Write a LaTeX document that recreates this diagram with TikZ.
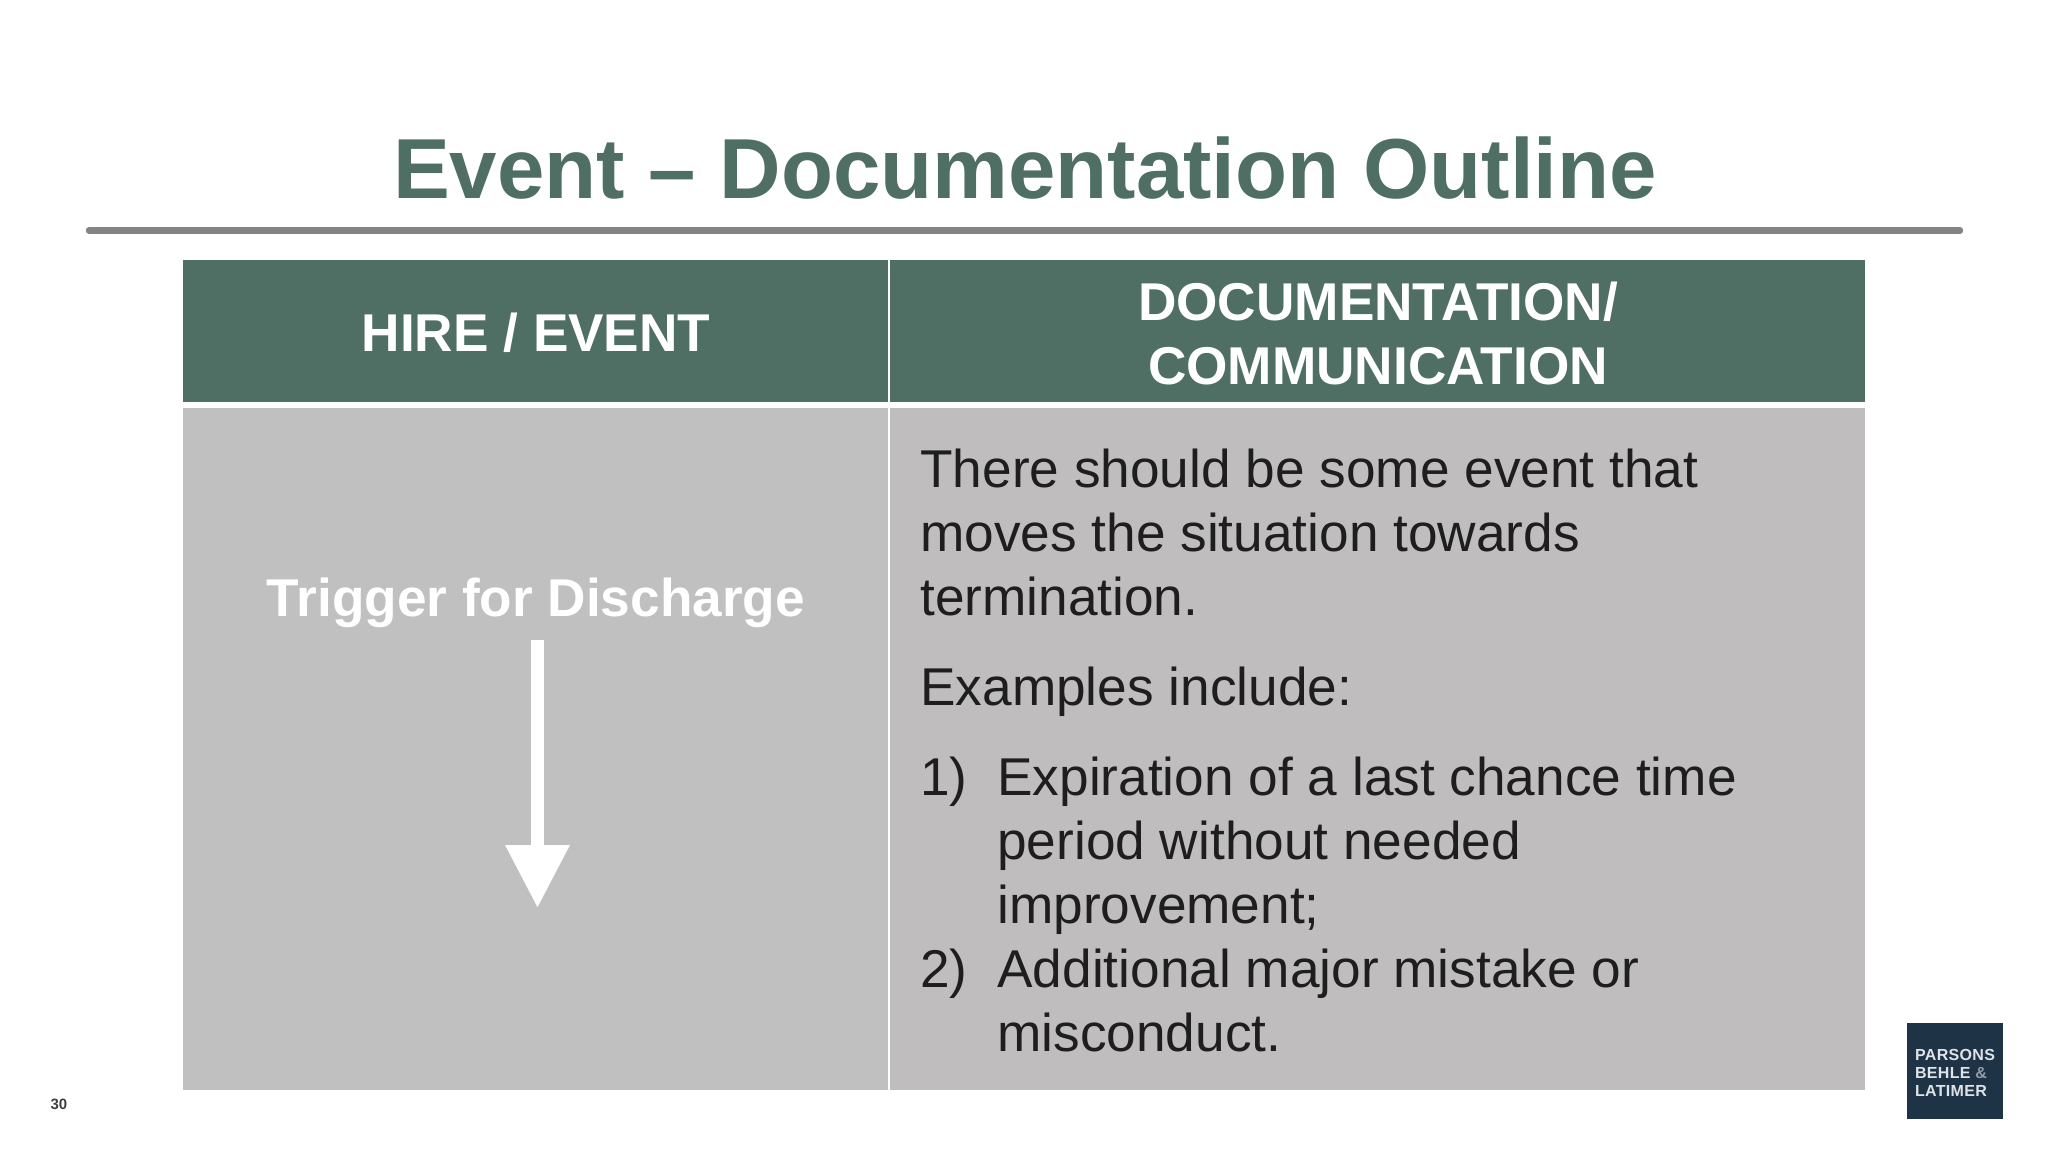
\documentclass[tikz,border=0pt]{standalone}
\usepackage{fontspec}
\setmainfont{Liberation Sans}
\usetikzlibrary{arrows.meta}
\definecolor{slidegreen}{HTML}{4F6E64}
\definecolor{leftgray}{HTML}{C0C0C0}
\definecolor{rightgray}{HTML}{BFBDBE}
\definecolor{rulegray}{HTML}{848484}
\definecolor{bodyink}{HTML}{1E1E1E}
\definecolor{logoblue}{HTML}{1F3347}
\definecolor{logoink}{HTML}{DDE3E6}
\tikzset{
  headtext/.style={text=white,font=\fontsize{26.6}{32}\selectfont\bfseries,align=center},
  bodytext/.style={text=bodyink,font=\fontsize{26.6}{32}\selectfont,align=left,anchor=north west,inner sep=0pt},
}

\begin{document}
\begin{tikzpicture}[x=0.5pt,y=-0.5pt]
  \useasboundingbox[fill=white] (0,0) rectangle (2048,1152);
  \draw (1025,198) node[anchor=base,text=slidegreen,font=\fontsize{42.6}{50}\selectfont\bfseries] (title) {Event – Documentation Outline};
  \draw[rulegray,line width=3.2pt,line cap=round] (89,230.5)--(1960,230.5);
  % table cells
  \fill[slidegreen] (183,260) rectangle (888,402);
  \fill[slidegreen] (890,260) rectangle (1865,402);
  \fill[leftgray] (183,408) rectangle (888,1090);
  \fill[rightgray] (890,408) rectangle (1865,1090);
  \draw (536,333) node[headtext] (hirehead) {HIRE / EVENT};
  \draw (1378,333) node[headtext] (dochead) {DOCUMENTATION/\\COMMUNICATION};
  % left cell
  \draw (536,603) node[headtext] (trigger) {Trigger for Discharge};
  \coordinate (arrowtop) at (537.5,640);
  \coordinate (arrowtip) at (537.5,908);
  \draw[white,line width=6.5pt,-{Triangle[length=31.5pt,width=30.5pt]}] (arrowtop)--(arrowtip);
  % right cell
  \draw (920,449) node[bodytext] (reason) {There should be some event that\\moves the situation towards\\termination.};
  \draw (920,667) node[bodytext] (examples) {Examples include:};
  \draw (920,757) node[bodytext] (numone) {1)};
  \draw (997,757) node[bodytext] (itemone) {Expiration of a last chance time\\period without needed\\improvement;};
  \draw (920,949) node[bodytext] (numtwo) {2)};
  \draw (997,949) node[bodytext] (itemtwo) {Additional major mistake or\\misconduct.};
  % footer
  \draw (59,1104) node[text=black!75,font=\fontsize{7.5}{9}\selectfont\bfseries] (pagenum) {30};
  \fill[logoblue] (1907,1023) rectangle (2003,1119);
  \draw (1955,1073) node[text=logoink,align=left,inner sep=0pt,font=\fontsize{8}{9}\selectfont\bfseries\addfontfeature{LetterSpace=2}] (logo) {PARSONS\\BEHLE \textcolor{logoink!60!logoblue}{\&}\\LATIMER};
\end{tikzpicture}
\end{document}
